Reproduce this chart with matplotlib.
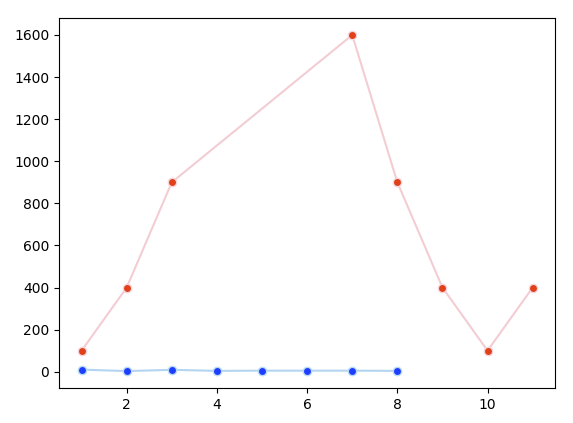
import matplotlib
matplotlib.use("Agg")
import matplotlib.pyplot as plt

# Data
red_x = [1, 2, 3, 7, 8, 9, 10, 11]
red_y = [100, 400, 900, 1600, 900, 400, 100, 400]
blue_x = [1, 2, 3, 4, 5, 6, 7, 8]
blue_y = [10, 3, 9, 4, 5, 5, 5, 4]

fig, ax = plt.subplots(figsize=(5.73, 4.23), dpi=100)
ax.plot(red_x, red_y, color='#f2cdd3', linewidth=1.5, marker='o', markersize=6,
        markerfacecolor='#e0401a', markeredgecolor='#f7d6dc', markeredgewidth=1)
ax.plot(blue_x, blue_y, color='#b3d5f2', linewidth=1.5, marker='o', markersize=6,
        markerfacecolor='#1f3dff', markeredgecolor='#b9dcf5', markeredgewidth=1)
ax.set_xticks([2, 4, 6, 8, 10])
fig.subplots_adjust(left=0.103, right=0.969, top=0.957, bottom=0.083)
fig.savefig("out.png", dpi=100)
